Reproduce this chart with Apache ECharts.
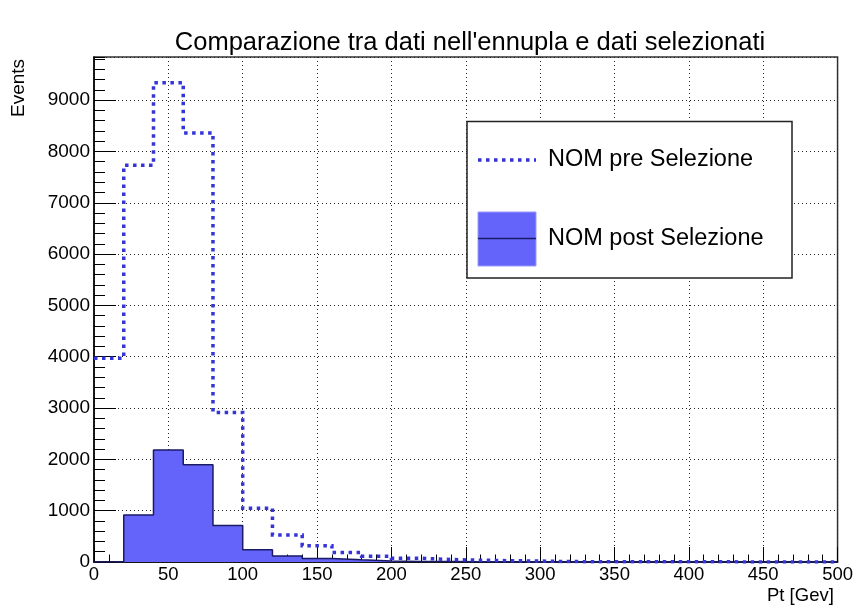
<!DOCTYPE html>
<html>
<head>
<meta charset="utf-8">
<script src="https://cdn.jsdelivr.net/npm/echarts@6/dist/echarts.min.js"></script>
<style>
html,body{margin:0;padding:0;background:#fff;}
#chart{width:856px;height:612px;}
</style>
</head>
<body>
<div id="chart"></div>
<script>
// ---- data ----
const binWidth = 20;
const xMin = 0;
const xMax = 500;
const yMax = 9840;
const preName = 'NOM pre Selezione';
const postName = 'NOM post Selezione';
// events per 20 GeV bin, 0-500
const preValues = [3970, 7730, 9340, 8360, 2915, 1046, 528, 318, 185, 112, 72, 48, 35, 25, 18, 8, 6, 5, 4, 3, 3, 2, 2, 1, 1];
const postValues = [0, 916, 2182, 1896, 710, 238, 118, 70, 42, 20, 12, 8, 5, 3, 2, 1, 1, 1, 0, 0, 0, 0, 0, 0, 0];
const titleText = "Comparazione tra dati nell'ennupla e dati selezionati";
const xName = 'Pt [Gev]';
const yName = 'Events';

function histPoints(vals) {
  const pts = vals.map((v, i) => [xMin + i * binWidth, v]);
  pts.push([xMin + vals.length * binWidth, vals[vals.length - 1]]);
  return pts;
}

const FONT = 'Liberation Sans, Arial, Helvetica, sans-serif';
const preColor = '#3434d8';
const fillColor = '#6464fa';
const edgeColor = '#1a1a66';
const gridLine = {show: true, lineStyle: {color: '#222', width: 1, type: [1, 3]}};
const plain = v => String(v);

const chart = echarts.init(document.getElementById('chart'), null, {renderer: 'canvas'});
chart.setOption({
  animation: false,
  backgroundColor: '#fff',
  title: {
    text: titleText,
    left: 470,
    top: 30,
    textAlign: 'center',
    padding: 0,
    textStyle: {fontFamily: FONT, fontSize: 25.5, fontWeight: 'normal', color: '#000'}
  },
  grid: {left: 94, right: 17, top: 57, bottom: 50, show: true, borderColor: '#333', borderWidth: 1.5, backgroundColor: 'transparent'},
  xAxis: {
    type: 'value', min: xMin, max: xMax, interval: 50,
    axisLine: {show: true, onZero: false, lineStyle: {color: '#000', width: 1.5}},
    axisTick: {show: true, inside: true, length: 15, lineStyle: {color: '#000', width: 1}},
    minorTick: {show: true, splitNumber: 5, length: 7.5, lineStyle: {color: '#000', width: 1}},
    axisLabel: {fontFamily: FONT, fontSize: 18.5, color: '#000', margin: 3, formatter: plain},
    splitLine: gridLine
  },
  yAxis: [{
    type: 'value', min: 0, max: yMax, interval: 1000, position: 'left',
    axisLine: {show: true, onZero: false, lineStyle: {color: '#000', width: 1.5}},
    axisTick: {show: true, inside: true, length: 22, lineStyle: {color: '#000', width: 1}},
    axisLabel: {fontFamily: FONT, fontSize: 19, color: '#000', margin: 4, showMaxLabel: false, formatter: plain},
    splitLine: gridLine
  }, {
    type: 'value', min: 0, max: yMax, interval: 200, position: 'left',
    axisLine: {show: false},
    axisTick: {show: true, inside: true, length: 11, lineStyle: {color: '#000', width: 1}},
    axisLabel: {show: false},
    splitLine: {show: false}
  }],
  series: [{
    name: postName,
    type: 'line', step: 'end', symbol: 'none',
    data: histPoints(postValues),
    lineStyle: {color: edgeColor, width: 1.5},
    areaStyle: {color: fillColor, opacity: 1},
    z: 2
  }, {
    name: preName,
    type: 'line', step: 'end', symbol: 'none',
    data: histPoints(preValues),
    lineStyle: {color: preColor, width: 3.5, type: [3.5, 4.5], cap: 'butt', join: 'miter'},
    z: 3
  }],
  graphic: [
    {type: 'text', left: 767, top: 586, style: {text: xName, font: '18.5px ' + FONT, fill: '#000'}},
    {type: 'text', x: 18.5, y: 88, rotation: Math.PI / 2, style: {text: yName, font: '19px ' + FONT, fill: '#000', align: 'center', verticalAlign: 'middle'}},
    {type: 'rect', shape: {x: 467, y: 121.5, width: 325, height: 156.5}, style: {fill: '#fff', stroke: '#222', lineWidth: 1.5}, z: 10},
    {type: 'line', shape: {x1: 478, y1: 160, x2: 536, y2: 160}, style: {stroke: preColor, lineWidth: 3.5, lineDash: [3.5, 4.5], lineCap: 'butt'}, z: 11},
    {type: 'rect', shape: {x: 478, y: 212, width: 58, height: 54}, style: {fill: fillColor, stroke: '#9a9afc', lineWidth: 1}, z: 11},
    {type: 'line', shape: {x1: 478, y1: 238.5, x2: 536, y2: 238.5}, style: {stroke: edgeColor, lineWidth: 1.5}, z: 12},
    {type: 'text', x: 548, y: 160, style: {text: preName, font: '23.5px ' + FONT, fill: '#000', verticalAlign: 'middle'}, z: 12},
    {type: 'text', x: 548, y: 239, style: {text: postName, font: '23.5px ' + FONT, fill: '#000', verticalAlign: 'middle'}, z: 12}
  ]
});
</script>
</body>
</html>
